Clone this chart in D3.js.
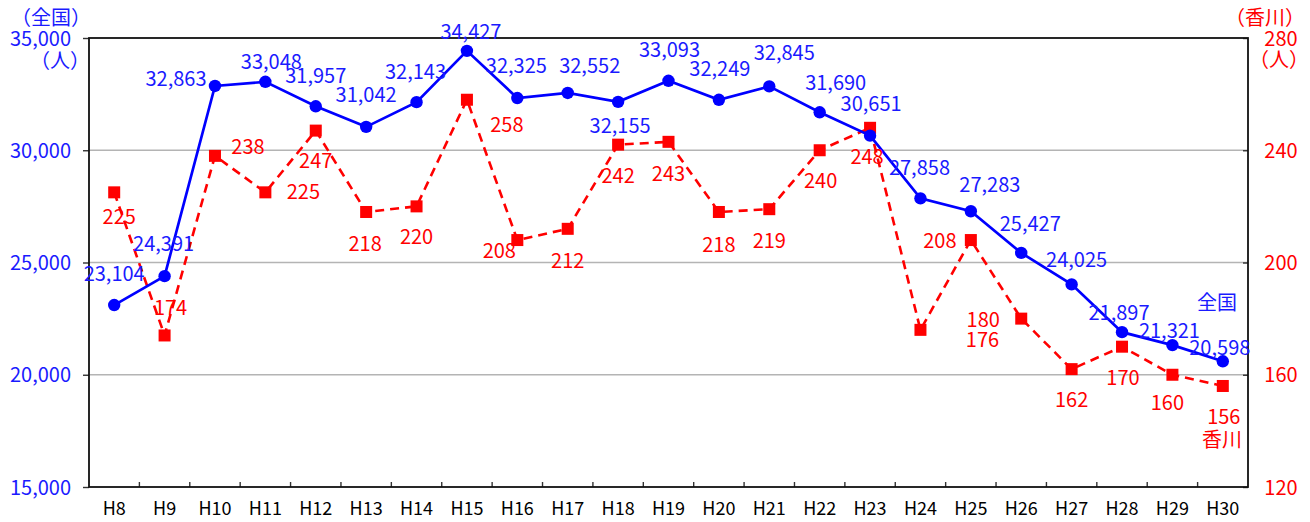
<!DOCTYPE html>
<html>
<head>
<meta charset="utf-8">
<script src="https://cdn.jsdelivr.net/npm/d3@7"></script>
<style>
  html, body { margin: 0; padding: 0; background: #fff; }
  svg { display: block; font-family: "Noto Sans CJK JP", "Noto Sans", sans-serif; }
</style>
</head>
<body>
<svg id="chart" width="1310" height="522"></svg>
<script>
// ---- data ----
const categories = ["H8","H9","H10","H11","H12","H13","H14","H15","H16","H17","H18","H19","H20","H21","H22","H23","H24","H25","H26","H27","H28","H29","H30"];
const nationalValues = [23104,24391,32863,33048,31957,31042,32143,34427,32325,32552,32155,33093,32249,32845,31690,30651,27858,27283,25427,24025,21897,21321,20598];
const kagawaValues = [225,174,238,225,247,218,220,258,208,212,242,243,218,219,240,248,176,208,180,162,170,160,156];
const leftTickValues = [15000,20000,25000,30000,35000];
const rightTickValues = [120,160,200,240,280];

// ---- label placement (pixel offsets from each point) ----
const nationalLabelOffsets = [[0,-31],[-1,-32],[-39,-7],[6,-20],[0,-30],[0,-32],[-1,-30],[4,-19],[-1,-32],[22,-27],[2,24],[1,-31],[1,-31],[15,-33],[16,-29],[1,-32],[-1,-30],[19,-26],[9,-29],[5,-24],[-3,-19],[-3,-14],[-3,-13]];
const kagawaLabelOffsets = [[5,25],[6,-27],[33,-9],[38,0],[0,30],[-1,32],[0,31],[40,25],[-18,11],[0,32],[0,31],[0,32],[0,33],[0,32],[1,31],[-3,29],[62,10],[-31,1],[-38,1],[0,31],[1,31],[-5,28],[1,31]];

const BLUE = "#0000ff", BLUE_T = "#1a1aff", RED = "#ff0000";
const svg = d3.select("#chart");
const L = 89, T = 38, R = 1248, B = 487;

const x = d3.scaleBand().domain(categories).range([L, R]).padding(0);
const yL = d3.scaleLinear().domain([15000, 35000]).range([B, T]);
const yR = d3.scaleLinear().domain([120, 280]).range([B, T]);
const cx = d => x(d) + x.bandwidth() / 2;

// gridlines
svg.append("g").selectAll("line").data(leftTickValues.filter(v => v > 15000 && v < 35000)).join("line")
  .attr("x1", L).attr("x2", R).attr("y1", d => yL(d)).attr("y2", d => yL(d))
  .attr("stroke", "#b4b4b4").attr("stroke-width", 1.4);

// left axis
const gl = svg.append("g").attr("transform", `translate(${L},0)`)
  .call(d3.axisLeft(yL).tickValues(leftTickValues).tickSize(6).tickPadding(12).tickFormat(d3.format(",")));
gl.select(".domain").remove();
gl.selectAll(".tick line").attr("stroke", "#333").attr("stroke-width", 1.4);
gl.selectAll(".tick text").attr("fill", BLUE_T).attr("font-size", 20).attr("font-family", "Noto Sans CJK JP").attr("dy", "0.35em");

// right axis
const gr = svg.append("g").attr("transform", `translate(${R},0)`)
  .call(d3.axisRight(yR).tickValues(rightTickValues).tickSize(-5));
gr.select(".domain").remove();
gr.selectAll(".tick line").attr("stroke", "#333").attr("stroke-width", 1.4);
gr.selectAll(".tick text").attr("x", 33).attr("text-anchor", "middle").attr("fill", RED)
  .attr("font-size", 20).attr("font-family", "Noto Sans CJK JP").attr("dy", "0.35em");

// bottom axis
const gb = svg.append("g").attr("transform", `translate(0,${B})`)
  .call(d3.axisBottom(x).tickSize(0).tickPadding(14));
gb.select(".domain").remove();
gb.selectAll(".tick text").attr("fill", "#000").attr("font-size", 18).attr("font-family", "Noto Sans CJK JP").attr("dy", "0.35em").attr("y", 22);
svg.append("g").selectAll("line").data(categories.slice(1)).join("line")
  .attr("x1", d => x(d)).attr("x2", d => x(d)).attr("y1", B).attr("y2", B - 5)
  .attr("stroke", "#333").attr("stroke-width", 1.4);

// plot frame
svg.append("rect").attr("x", L).attr("y", T).attr("width", R - L).attr("height", B - T)
  .attr("fill", "none").attr("stroke", "#111").attr("stroke-width", 1.8);

// axis titles
const txt = (s, xx, yy, col, anchor) => svg.append("text").attr("x", xx).attr("y", yy).attr("dy", "0.35em")
  .attr("text-anchor", anchor || "middle").attr("fill", col).attr("font-size", 20).text(s);
txt("（全国）", 51, 18, BLUE_T);
txt("（人）", 60, 61, BLUE_T);
txt("（香川）", 1265, 18, RED);
txt("（人）", 1279, 60, RED);

// Kagawa series (right axis)
const kData = categories.map((c, i) => ({ c, v: kagawaValues[i], o: kagawaLabelOffsets[i] }));
svg.append("path").datum(kData)
  .attr("d", d3.line().x(d => cx(d.c)).y(d => yR(d.v)))
  .attr("fill", "none").attr("stroke", RED).attr("stroke-width", 2.6).attr("stroke-dasharray", "9,6");
svg.append("g").selectAll("rect").data(kData).join("rect")
  .attr("x", d => cx(d.c) - 6).attr("y", d => yR(d.v) - 6).attr("width", 12).attr("height", 12).attr("fill", RED);

// National series (left axis)
const nData = categories.map((c, i) => ({ c, v: nationalValues[i], o: nationalLabelOffsets[i] }));
svg.append("path").datum(nData)
  .attr("d", d3.line().x(d => cx(d.c)).y(d => yL(d.v)))
  .attr("fill", "none").attr("stroke", BLUE).attr("stroke-width", 2.7);
svg.append("g").selectAll("circle").data(nData).join("circle")
  .attr("cx", d => cx(d.c)).attr("cy", d => yL(d.v)).attr("r", 6.2).attr("fill", BLUE);

// data labels
svg.append("g").selectAll("text").data(kData).join("text")
  .attr("x", d => cx(d.c) + d.o[0]).attr("y", d => yR(d.v) + d.o[1]).attr("dy", "0.35em")
  .attr("text-anchor", "middle").attr("fill", RED).attr("font-size", 20).text(d => d.v);
svg.append("g").selectAll("text").data(nData).join("text")
  .attr("x", d => cx(d.c) + d.o[0]).attr("y", d => yL(d.v) + d.o[1]).attr("dy", "0.35em")
  .attr("text-anchor", "middle").attr("fill", BLUE_T).attr("font-size", 20).text(d => d3.format(",")(d.v));

// series name labels
txt("全国", 1217, 303, BLUE_T);
txt("香川", 1222, 440, RED);
</script>
</body>
</html>
